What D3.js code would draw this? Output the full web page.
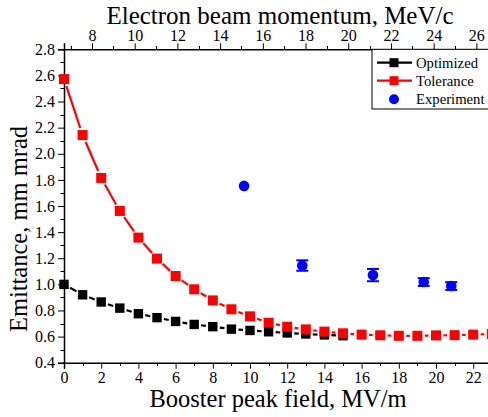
<!DOCTYPE html>
<html>
<head>
<meta charset="utf-8">
<script src="https://cdn.jsdelivr.net/npm/d3@7"></script>
<style>
  body { margin: 0; background: #fff; }
</style>
</head>
<body>
<svg id="chart" width="488" height="417"></svg>
<script>
// booster field, MV/m
var fieldOpt = [0, 1, 2, 3, 4, 5, 6, 7, 8, 9, 10, 11, 12, 13, 14, 15];
var emitOpt = [1.00, 0.92, 0.865, 0.818, 0.775, 0.745, 0.716, 0.693, 0.676, 0.657, 0.647, 0.637, 0.628, 0.62, 0.613, 0.607];

var fieldTol = [0, 1, 2, 3, 4, 5, 6, 7, 8, 9, 10, 11, 12, 13, 14, 15, 16, 17, 18, 19, 20, 21, 22, 23];
var emitTol = [2.572, 2.143, 1.815, 1.562, 1.358, 1.197, 1.064, 0.962, 0.877, 0.809, 0.755, 0.706, 0.675, 0.655, 0.638, 0.625, 0.615, 0.61, 0.606, 0.606, 0.609, 0.611, 0.615, 0.62];

var fieldExp = [9.68, 12.81, 16.61, 19.34, 20.82];
var emitExp = [1.754, 1.144, 1.071, 1.018, 0.987];
var errExp = [0, 0.04, 0.047, 0.03, 0.03];

var yTicks = [0.4, 0.6, 0.8, 1.0, 1.2, 1.4, 1.6, 1.8, 2.0, 2.2, 2.4, 2.6, 2.8];
var xTicks = [0, 2, 4, 6, 8, 10, 12, 14, 16, 18, 20, 22];
var pTicks = [8, 10, 12, 14, 16, 18, 20, 22, 24, 26];

var legendNames = ['Optimized', 'Tolerance', 'Experiment'];

// momentum = P0 + K * field
var P0 = 6.69, K = 0.871;

var FONT = '"Liberation Serif", "Times New Roman", serif';

var svg = d3.select('#chart');

var xScale = d3.scaleLinear().domain([0, 23]).range([64, 491.8]);
var yScale = d3.scaleLinear().domain([0.4, 2.8]).range([362.7, 49.3]);
var pScale = d3.scaleLinear().domain([P0, P0 + K * 23]).range([64, 491.8]);

function _range(a, b, step) {
    var out = [];
    for (var v = a; v <= b + 1e-9; v += step) out.push(+v.toFixed(3));
    return out;
}

// minor ticks
var gMinor = svg.append('g').attr('stroke', '#000').attr('stroke-width', 1);
_range(1, 23, 2).forEach(function (v) {
    var x = Math.round(xScale(v)) + 0.5;
    gMinor.append('line').attr('x1', x).attr('x2', x).attr('y1', 362.7).attr('y2', 366);
});
_range(0.5, 2.7, 0.2).forEach(function (v) {
    var y = Math.round(yScale(v)) + 0.5;
    gMinor.append('line').attr('x1', 64).attr('x2', 60.5).attr('y1', y).attr('y2', y);
});
_range(7, 27, 2).forEach(function (v) {
    var x = Math.round(pScale(v)) + 0.5;
    gMinor.append('line').attr('x1', x).attr('x2', x).attr('y1', 49.3).attr('y2', 46);
});

// axes
var xAxis = d3.axisBottom(xScale).tickValues(xTicks).tickSize(6).tickPadding(3).tickFormat(d3.format('d'));
var yAxis = d3.axisLeft(yScale).tickValues(yTicks).tickSize(6).tickPadding(3).tickFormat(d3.format('.1f'));
var pAxis = d3.axisTop(pScale).tickValues(pTicks).tickSize(6).tickPadding(2).tickFormat(d3.format('d'));

function _styleAxis(g) {
    g.attr('font-family', FONT).attr('font-size', 16);
    g.select('.domain').attr('stroke-width', 1.5);
    g.selectAll('.tick line').attr('stroke-width', 1);
    g.selectAll('text').attr('fill', '#000');
}

svg.append('g').attr('transform', 'translate(0,362.7)').call(xAxis).call(_styleAxis);
svg.append('g').attr('transform', 'translate(64,0)').call(yAxis).call(_styleAxis);
svg.append('g').attr('transform', 'translate(0,49.3)').call(pAxis).call(_styleAxis);

// axis titles
function _title(x, y, size, txt, rot) {
    var t = svg.append('text').attr('text-anchor', 'middle')
        .attr('font-family', FONT).attr('font-size', size).attr('fill', '#000').text(txt);
    if (rot) t.attr('transform', 'translate(' + x + ',' + y + ') rotate(-90)');
    else t.attr('x', x).attr('y', y);
}
_title(280, 24, 25, 'Electron beam momentum, MeV/c');
_title(278, 407, 24.5, 'Booster peak field, MV/m');
_title(27, 229, 24.5, 'Emittance, mm mrad', true);

// lines with a gap at every symbol
function _gapLine(g, xs, ys, color, gap) {
    for (var i = 0; i < xs.length - 1; i++) {
        var x1 = xScale(xs[i]), y1 = yScale(ys[i]);
        var x2 = xScale(xs[i + 1]), y2 = yScale(ys[i + 1]);
        var dx = x2 - x1, dy = y2 - y1, len = Math.sqrt(dx * dx + dy * dy);
        if (len <= 2 * gap) continue;
        var ux = dx / len, uy = dy / len;
        g.append('line')
            .attr('x1', x1 + ux * gap).attr('y1', y1 + uy * gap)
            .attr('x2', x2 - ux * gap).attr('y2', y2 - uy * gap)
            .attr('stroke', color).attr('stroke-width', 2.2);
    }
}

var plot = svg.append('g');

_gapLine(plot, fieldOpt, emitOpt, '#000', 7);
plot.selectAll('.opt').data(fieldOpt).enter().append('rect')
    .attr('x', function (d) { return xScale(d) - 4.7; })
    .attr('y', function (d, i) { return yScale(emitOpt[i]) - 4.7; })
    .attr('width', 9.4).attr('height', 9.4).attr('fill', '#000');

_gapLine(plot, fieldTol, emitTol, '#ff0000', 7.5);
plot.selectAll('.tol').data(fieldTol).enter().append('rect')
    .attr('x', function (d) { return xScale(d) - 5; })
    .attr('y', function (d, i) { return yScale(emitTol[i]) - 5; })
    .attr('width', 10).attr('height', 10).attr('fill', '#ff0000');

// experiment with error bars
var expG = plot.selectAll('.exp').data(fieldExp).enter().append('g');
expG.each(function (d, i) {
    if (!(errExp[i] > 0)) return;
    var g = d3.select(this), x = xScale(d);
    var yTop = yScale(emitExp[i] + errExp[i]), yBot = yScale(emitExp[i] - errExp[i]);
    g.append('line').attr('x1', x).attr('x2', x).attr('y1', yTop).attr('y2', yBot).attr('stroke', '#0000ff').attr('stroke-width', 1.5);
    g.append('line').attr('x1', x - 6).attr('x2', x + 6).attr('y1', yTop).attr('y2', yTop).attr('stroke', '#0000ff').attr('stroke-width', 2);
    g.append('line').attr('x1', x - 6).attr('x2', x + 6).attr('y1', yBot).attr('y2', yBot).attr('stroke', '#0000ff').attr('stroke-width', 2);
});
expG.append('circle')
    .attr('cx', function (d) { return xScale(d); })
    .attr('cy', function (d, i) { return yScale(emitExp[i]); })
    .attr('r', 5.3).attr('fill', '#0000ff');

// legend
var leg = svg.append('g');
leg.append('rect').attr('x', 372).attr('y', 49.3).attr('width', 130).attr('height', 59.7)
    .attr('fill', '#fff').attr('stroke', '#000').attr('stroke-width', 1);
var legY = [62.7, 80.7, 99.3];
var legColors = ['#000', '#ff0000', '#0000ff'];
legendNames.forEach(function (name, i) {
    if (i < 2) {
        leg.append('line').attr('x1', 377).attr('x2', 412).attr('y1', legY[i]).attr('y2', legY[i])
            .attr('stroke', legColors[i]).attr('stroke-width', 2.2);
        leg.append('rect').attr('x', 389.5).attr('y', legY[i] - 4.5).attr('width', 9).attr('height', 9).attr('fill', legColors[i]);
    } else {
        leg.append('circle').attr('cx', 394).attr('cy', legY[i]).attr('r', 5).attr('fill', legColors[i]);
    }
    leg.append('text').attr('x', 416).attr('y', legY[i] + 5)
        .attr('font-family', FONT).attr('font-size', 14.7).attr('fill', '#000').text(name);
});
</script>
</body>
</html>
